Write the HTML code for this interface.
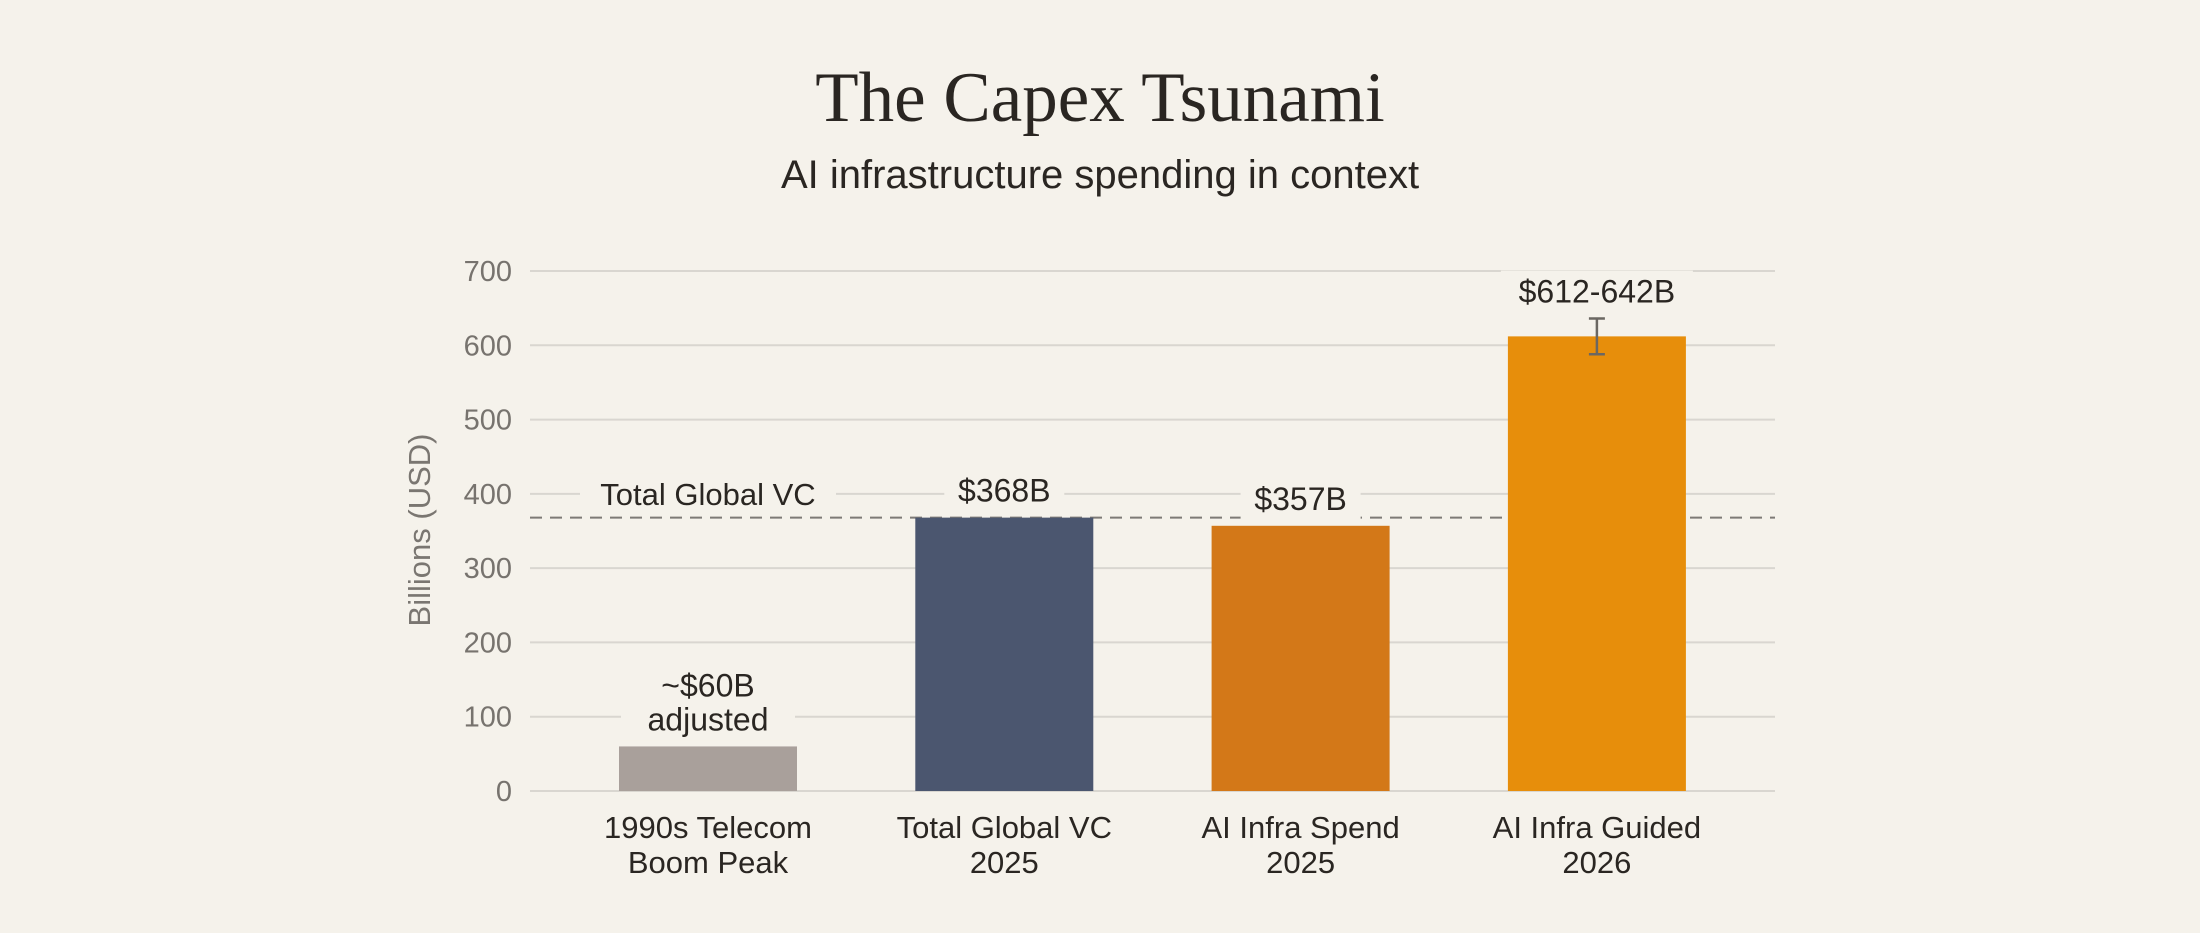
<!DOCTYPE html>
<html><head><meta charset="utf-8"><style>
html,body{margin:0;padding:0;background:#f5f2eb;}
svg{display:block}
text{font-family:"Liberation Sans",sans-serif;}
</style></head><body>
<svg width="2200" height="933" viewBox="0 0 2200 933">
<rect width="2200" height="933" fill="#f5f2eb"/>
<text x="1100" y="121" text-anchor="middle" font-size="71" fill="#2a2622" style="font-family:'Liberation Serif',serif">The Capex Tsunami</text>
<text x="1100" y="188" text-anchor="middle" font-size="40" fill="#2a2622">AI infrastructure spending in context</text>
<text transform="translate(430,530) rotate(-90)" text-anchor="middle" font-size="31" fill="#7a7671">Billions (USD)</text>
<g id="grid"></g><g id="ticks"></g><g id="bars"></g><g id="labels"></g>
</svg>
<script>
const categories=[["1990s Telecom","Boom Peak"],["Total Global VC","2025"],["AI Infra Spend","2025"],["AI Infra Guided","2026"]];
const values=[60,368,357,612];
const valueLabels=[["~$60B","adjusted"],["$368B"],["$357B"],["$612-642B"]];
const colors=["#a9a09b","#4b566f","#d37818","#e78e0b"];
const errLow=[null,null,null,588];
const errHigh=[null,null,null,636];
const ticks=[0,100,200,300,400,500,600,700];
const refValue=368;
const refLabel="Total Global VC";
const NS="http://www.w3.org/2000/svg";
const x0=530,x1=1775,y0=791,yTop=271;
function y(v){return y0-(v/700)*(y0-yTop);}
function xc(i){return 708+i*296.3;}
const BW=178;
function mk(t,a,p){const e=document.createElementNS(NS,t);for(const k in a)e.setAttribute(k,a[k]);p.appendChild(e);return e;}
const G=document.getElementById('grid'),T=document.getElementById('ticks'),B=document.getElementById('bars'),L=document.getElementById('labels');
ticks.forEach(t=>{
 const l=mk('line',{x1:x0,x2:x1,y1:y(t),y2:y(t),stroke:'#d9d6d0','stroke-width':2},G);
 
 
 const tx=mk('text',{x:512,y:y(t)+10,'text-anchor':'end','font-size':29,fill:'#77736e'},T);tx.textContent=t;
 
 
});
const rl=mk('line',{x1:x0,x2:x1,y1:y(refValue),y2:y(refValue),stroke:'#7d7a76','stroke-width':2,'stroke-dasharray':'12 8'},G);


const rb=mk('rect',{x:580,y:y(400)-20,width:256,height:40,fill:'#f5f2eb'},G);


const rt=mk('text',{x:708,y:y(400)+11,'text-anchor':'middle','font-size':31,fill:'#2a2622'},L);rt.textContent=refLabel;


values.forEach((v,i)=>{
 const cx=xc(i);
 const r=mk('rect',{x:cx-BW/2,y:y(v),width:BW,height:y0-y(v),fill:colors[i]},B);
 
 
 if(errLow[i]!=null){
  const eg=mk('g',{stroke:'#6b6762','stroke-width':2.5},B);
  
  
  mk('line',{x1:cx,x2:cx,y1:y(errHigh[i]),y2:y(errLow[i])},eg);
  mk('line',{x1:cx-8,x2:cx+8,y1:y(errHigh[i]),y2:y(errHigh[i])},eg);
  mk('line',{x1:cx-8,x2:cx+8,y1:y(errLow[i]),y2:y(errLow[i])},eg);
 }
 const lines=valueLabels[i];
 const top=errHigh[i]!=null?y(errHigh[i]):y(v);
 const w=Math.max(...lines.map(s=>s.length))*18+30;
 const bg=mk('rect',{x:cx-w/2,y:top-12-lines.length*36,width:w,height:lines.length*36+6,fill:'#f5f2eb'},G);
 
 
 lines.forEach((s,j)=>{
  const t=mk('text',{x:cx,y:top-16-(lines.length-1-j)*34,'text-anchor':'middle','font-size':32,fill:'#2a2622'},L);t.textContent=s;
  
  
 });
 categories[i].forEach((s,j)=>{
  const t=mk('text',{x:cx,y:838+j*35,'text-anchor':'middle','font-size':31,fill:'#2a2622'},L);t.textContent=s;
  
  
 });
});
</script>
</body></html>
